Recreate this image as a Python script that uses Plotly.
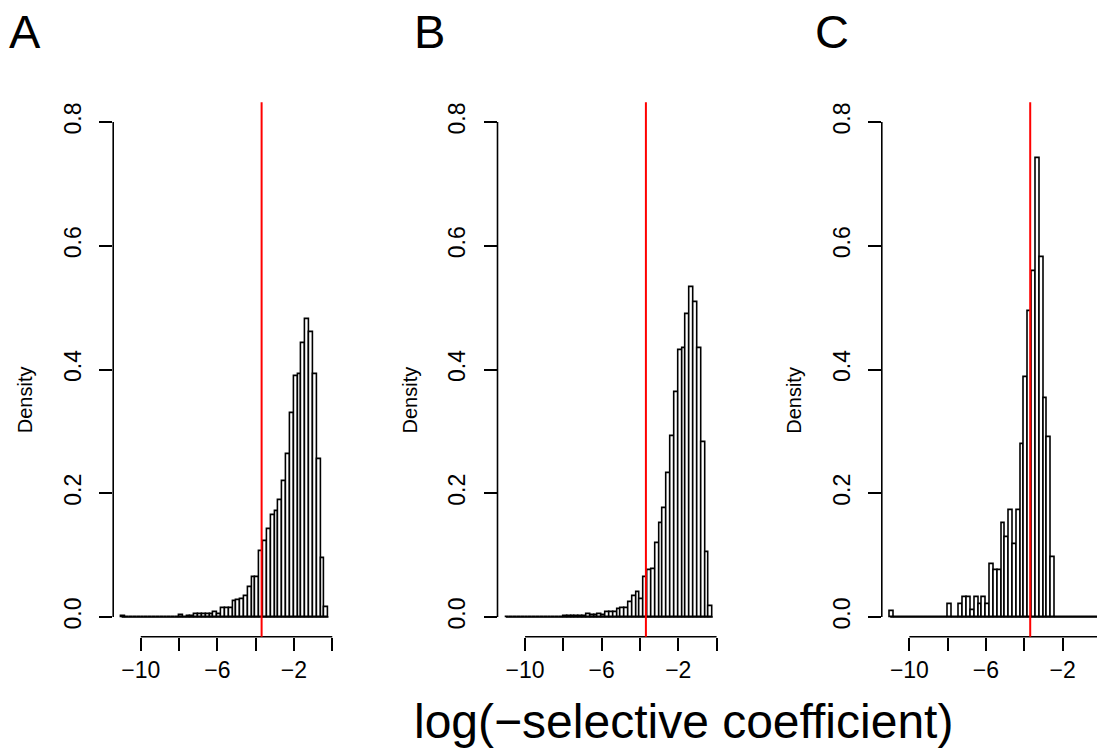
import plotly.graph_objects as go

# ---------------- data ----------------
BIN_START = -11.0
BIN_WIDTH = 0.2
X_TICKS = [-10, -8, -6, -4, -2, 0]
X_TICK_TEXT = ["−10", "", "−6", "", "−2", ""]
Y_TICKS = [0.0, 0.2, 0.4, 0.6, 0.8]
Y_TICK_TEXT = ["0.0", "0.2", "0.4", "0.6", "0.8"]
THRESHOLD = -3.69
PANEL_LABELS = ["A", "B", "C"]
X_LABEL = "log(−selective coefficient)"
Y_LABEL = "Density"

density_a = [0.001] + [0.0] * 14 + [
    0.003, 0.0, 0.001, 0.002, 0.004, 0.004, 0.005, 0.005, 0.004, 0.0075,
    0.005, 0.015, 0.014, 0.014, 0.025, 0.027, 0.029, 0.034, 0.048, 0.065,
    0.064, 0.107, 0.123, 0.142, 0.165, 0.171, 0.188, 0.219, 0.263, 0.329,
    0.389, 0.393, 0.443, 0.481, 0.460, 0.393, 0.255, 0.095, 0.016]

density_b = [0.0] * 15 + [
    0.0016, 0.0016, 0.001, 0.0016, 0.002, 0.002, 0.004, 0.003, 0.003, 0.005,
    0.003, 0.0075, 0.0075, 0.0075, 0.012, 0.015, 0.0135, 0.024, 0.033, 0.040,
    0.028, 0.065, 0.075, 0.0765, 0.120, 0.151, 0.176, 0.233, 0.293, 0.364,
    0.432, 0.435, 0.490, 0.533, 0.509, 0.435, 0.282, 0.1045, 0.017]

density_c = [0.010] + [0.0] * 14 + [
    0.021, 0.0, 0.0, 0.021, 0.032, 0.032, 0.011, 0.032, 0.021, 0.032,
    0.021, 0.085, 0.075, 0.075, 0.151, 0.129, 0.172, 0.117, 0.172, 0.279,
    0.387, 0.495, 0.559, 0.742, 0.581, 0.354, 0.290, 0.096] + [0.0] * 12

panels = [density_a, density_b, density_c]

# ---------------- layout geometry (pixels) ----------------
W, H = 1097, 748
FONT = "Liberation Sans, Arial, Helvetica, sans-serif"
X_LO, X_HI = -11.44, 0.44
Y_LO, Y_HI = -0.032, 0.832
PX_PER_UNIT = 19.15
PLOT_LEFTS = [113.2, 497.5, 881.8]
PLOT_TOP, PLOT_BOTTOM = 102.2, 636.8
LABEL_POS = [(25, 32), (429, 32), (832, 32)]
LINE_W = 1.6

fig = go.Figure()
shapes = []
annotations = []

for i, dens in enumerate(panels):
    n = "" if i == 0 else str(i + 1)
    xa, ya = "x" + n, "y" + n
    centers = [BIN_START + BIN_WIDTH * (k + 0.5) for k in range(len(dens))]
    fig.add_trace(go.Bar(
        x=centers, y=dens, width=BIN_WIDTH, xaxis=xa, yaxis=ya,
        marker=dict(color="white", line=dict(color="black", width=LINE_W)),
        showlegend=False, hoverinfo="skip"))

    left = PLOT_LEFTS[i]
    right = left + (X_HI - X_LO) * PX_PER_UNIT
    x_hi = X_HI
    if right > W:
        x_hi = X_LO + (W - left) / PX_PER_UNIT
        right = W
    dom_x = [left / W, right / W]
    dom_y = [1 - PLOT_BOTTOM / H, 1 - PLOT_TOP / H]

    fig.update_layout(**{
        ("xaxis" + n): dict(
            domain=dom_x, range=[X_LO, x_hi], anchor=ya,
            tickmode="array", tickvals=X_TICKS, ticktext=X_TICK_TEXT,
            ticks="outside", ticklen=13, tickwidth=LINE_W, tickcolor="black",
            showline=False, showgrid=False, zeroline=False,
            tickfont=dict(family=FONT, size=23, color="black")),
        ("yaxis" + n): dict(
            domain=dom_y, range=[Y_LO, Y_HI], anchor=xa,
            tickmode="array", tickvals=Y_TICKS, ticktext=Y_TICK_TEXT,
            ticks="outside", ticklen=13, tickwidth=LINE_W, tickcolor="black",
            tickangle=-90, ticklabelstandoff=9,
            showline=False, showgrid=False, zeroline=False,
            tickfont=dict(family=FONT, size=23, color="black")),
    })

    # R-style axis lines spanning only the tick range
    shapes.append(dict(type="line", xref=xa, yref=ya + " domain",
                       x0=X_TICKS[0], x1=X_TICKS[-1], y0=0, y1=0,
                       line=dict(color="black", width=LINE_W)))
    shapes.append(dict(type="line", xref=xa + " domain", yref=ya,
                       x0=0, x1=0, y0=Y_TICKS[0], y1=Y_TICKS[-1],
                       line=dict(color="black", width=LINE_W)))
    # histogram baseline (zero-height bins)
    shapes.append(dict(type="line", xref=xa, yref=ya,
                       x0=BIN_START, x1=BIN_START + BIN_WIDTH * len(dens),
                       y0=0, y1=0, line=dict(color="black", width=LINE_W)))
    # threshold line
    shapes.append(dict(type="line", xref=xa, yref=ya + " domain",
                       x0=THRESHOLD, x1=THRESHOLD, y0=0, y1=1,
                       line=dict(color="#ff0000", width=2)))

    # y label
    annotations.append(dict(
        text=Y_LABEL, xref="paper", yref="paper",
        x=(left - 88) / W, y=1 - 400 / H, xanchor="center", yanchor="middle",
        textangle=-90, showarrow=False,
        font=dict(family=FONT, size=20, color="black")))
    # panel letter
    lx, ly = LABEL_POS[i]
    annotations.append(dict(
        text=PANEL_LABELS[i], xref="paper", yref="paper",
        x=lx / W, y=1 - ly / H, xanchor="center", yanchor="middle",
        showarrow=False, font=dict(family=FONT, size=47, color="black")))

annotations.append(dict(
    text=X_LABEL, xref="paper", yref="paper",
    x=683 / W, y=1 - 721 / H, xanchor="center", yanchor="middle",
    showarrow=False, font=dict(family=FONT, size=48, color="black")))

fig.update_layout(
    width=W, height=H, margin=dict(l=0, r=0, t=0, b=0),
    paper_bgcolor="white", plot_bgcolor="white",
    shapes=shapes, annotations=annotations, bargap=0,
    font=dict(family=FONT, color="black"))

fig.write_html("out.html", config={"displayModeBar": False},
               post_script="document.body.style.margin='0';")
